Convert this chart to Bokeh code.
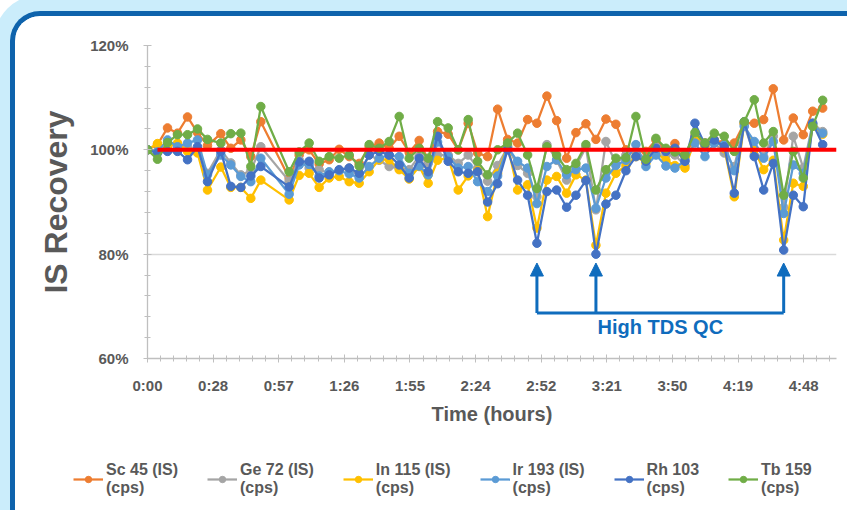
from bokeh.plotting import figure
from bokeh.layouts import column, row
from bokeh.models import (FixedTicker, Legend, LegendItem, Arrow, NormalHead, Label)
from bokeh.embed import file_html
from bokeh.resources import INLINE

# ---------------- data ----------------
elapsed_s = [0, 263, 527, 790, 1054, 1317, 1580, 1931, 2194, 2458, 2721, 2984,
             3730, 3994, 4257, 4520, 4784, 5047, 5311, 5574, 5837, 6101, 6364,
             6628, 6891, 7154, 7391, 7639, 7918, 8182, 8445, 8693, 8956, 9220,
             9483, 9746, 10010, 10255, 10518, 10774, 11037, 11282, 11545, 11809,
             12072, 12335, 12599, 12862, 13126, 13389, 13652, 13889, 14153, 14416,
             14680, 14925, 15188, 15452, 15715, 15979, 16226, 16479, 16753, 17006,
             17269, 17517, 17780]

sc45 = [100, 101.0, 104.2, 103.2, 106.3, 103.3, 100.8, 103.1, 100.3, 101.9, 98.7, 105.4,
        94.6, 99.0, 100.0, 97.3, 98.1, 100.1, 98.7, 97.4, 100.6, 101.3, 100.3,
        102.6, 99.5, 101.8, 98.0, 103.5, 103.0, 100.0, 105.1, 99.4, 98.7, 107.8,
        102.0, 101.3, 105.8, 105.1, 110.3, 105.6, 98.4, 103.3, 105.0, 102.0,
        105.9, 104.9, 100.0, 99.7, 99.7, 101.9, 99.7, 101.2, 98.7, 102.6,
        101.3, 101.9, 101.3, 101.3, 105.1, 105.1, 105.8, 111.7, 101.9, 106.1,
        102.9, 107.4, 108.0]
ge72 = [100, 99.7, 100.8, 101.0, 100.5, 100.0, 95.5, 100.0, 97.5, 95.2, 96.0, 100.6,
        94.0, 98.1, 96.5, 96.2, 95.5, 96.0, 96.5, 95.0, 99.0, 98.0, 96.8,
        96.5, 96.2, 98.8, 97.4, 99.0, 99.0, 97.4, 99.0, 96.5, 94.0, 97.0,
        100.5, 97.0, 95.5, 91.0, 101.0, 98.0, 94.2, 96.8, 100.5, 88.5,
        101.6, 97.4, 99.0, 99.7, 98.2, 100.6, 99.0, 99.0, 97.0, 101.9,
        101.3, 101.3, 99.4, 96.8, 104.8, 99.0, 98.7, 102.6, 89.0, 102.6,
        96.5, 105.1, 103.5]
in115 = [100, 101.2, 100.6, 101.3, 99.7, 99.4, 92.3, 96.7, 92.8, 92.8, 90.7, 94.2,
         90.4, 95.1, 95.5, 92.8, 94.6, 94.9, 93.9, 93.6, 95.8, 98.1, 98.1,
         96.2, 94.4, 96.8, 93.6, 98.0, 98.5, 92.3, 95.0, 96.0, 87.2, 95.5,
         100.8, 92.3, 93.3, 85.0, 94.2, 94.9, 91.7, 95.2, 94.2, 81.7,
         91.7, 95.5, 97.0, 98.7, 97.5, 99.4, 98.0, 97.0, 96.5, 101.9,
         100.6, 101.9, 100.3, 91.0, 105.1, 100.0, 96.2, 98.0, 82.7, 93.6,
         93.0, 104.5, 103.0]
ir193 = [100, 99.6, 101.9, 100.6, 101.3, 101.9, 95.2, 99.0, 97.1, 94.9, 93.9, 98.4,
         91.5, 97.1, 97.2, 95.0, 95.8, 96.0, 95.4, 94.6, 96.8, 98.4, 99.0,
         98.7, 95.5, 96.9, 95.2, 101.5, 98.7, 96.5, 96.8, 93.9, 92.0, 95.0,
         100.5, 97.8, 96.5, 89.7, 96.8, 98.1, 95.2, 96.2, 96.5, 88.8,
         94.6, 97.0, 98.0, 101.0, 96.8, 99.0, 96.9, 96.5, 98.0, 101.3,
         98.7, 101.3, 101.0, 96.0, 104.5, 101.6, 98.4, 101.6, 87.8, 97.1,
         95.5, 104.8, 103.2]
rh103 = [100, 99.4, 99.7, 99.7, 98.1, 100.6, 93.9, 99.7, 93.0, 92.8, 95.0, 96.8,
         92.9, 97.7, 97.8, 94.6, 95.2, 96.2, 96.5, 95.5, 99.0, 99.7, 99.0,
         97.1, 94.6, 98.4, 95.8, 102.6, 97.8, 95.8, 95.5, 95.8, 90.0, 93.5,
         100.0, 94.2, 91.3, 82.1, 92.0, 92.3, 89.0, 91.3, 94.1, 80.0,
         89.6, 91.3, 96.0, 98.7, 97.8, 100.3, 99.7, 100.3, 97.8, 105.1,
         101.0, 101.9, 100.6, 91.7, 105.4, 98.7, 92.3, 97.4, 80.8, 91.3,
         89.1, 105.1, 101.0]
tb159 = [100, 98.2, 101.4, 102.9, 102.9, 104.0, 102.0, 101.3, 103.1, 103.2, 96.8, 108.3,
         95.8, 99.6, 101.3, 97.8, 98.7, 98.4, 99.0, 96.9, 101.0, 100.3, 101.6,
         106.4, 98.4, 100.3, 98.4, 105.4, 104.2, 100.0, 105.8, 97.8, 95.2, 100.0,
         101.3, 103.2, 99.0, 92.6, 100.6, 99.0, 96.2, 97.4, 101.0, 92.3,
         96.2, 98.4, 98.5, 106.4, 98.2, 102.2, 100.3, 99.6, 99.0, 103.3,
         101.3, 103.2, 102.6, 99.7, 105.4, 109.6, 101.3, 103.5, 91.3, 99.7,
         94.6, 104.5, 109.5]

series_values = [sc45, ge72, in115, ir193, rh103, tb159]
series_labels = ["Sc 45 (IS)\n(cps)", "Ge 72 (IS)\n(cps)", "In 115 (IS)\n(cps)",
                 "Ir 193 (IS)\n(cps)", "Rh 103\n(cps)", "Tb 159\n(cps)"]
series_colors = ["#ED7D31", "#A5A5A5", "#FFC000", "#5B9BD5", "#4472C4", "#70AD47"]

x_tick_values = [0, 1728, 3456, 5184, 6912, 8640, 10368, 12096, 13824, 15552, 17280]
x_tick_labels = ["0:00", "0:28", "0:57", "1:26", "1:55", "2:24", "2:52", "3:21",
                 "3:50", "4:19", "4:48"]
y_tick_values = [60, 80, 100, 120]
y_tick_labels = ["60%", "80%", "100%", "120%"]
x_max = 18144
target_pct = 100
qc_indices = [37, 43, 62]
qc_label = "High TDS QC"
qc_bracket_pct = 68.7
qc_tip_pct = 78.3
qc_text_pct = 66.0

FONT = "Liberation Sans"
GREY_TXT = "#595959"
AXIS_GREY = "#BFBFBF"
QC_BLUE = "#0F6CBD"
NAN = float("nan")

# ---------------- main chart ----------------
p = figure(width=832, height=432, x_range=(0, x_max), y_range=(60, 120),
           output_backend="svg", toolbar_location=None,
           min_border_left=132, min_border_right=11, min_border_top=29,
           min_border_bottom=90)
p.border_fill_color = "white"
p.background_fill_color = "white"
p.outline_line_color = None

p.xaxis.ticker = FixedTicker(ticks=x_tick_values,
                             minor_ticks=[i * 345.6 for i in range(53)])
p.xaxis.major_label_overrides = dict(zip(x_tick_values, x_tick_labels))
p.yaxis.ticker = FixedTicker(ticks=y_tick_values, minor_ticks=list(range(60, 121, 4)))
p.yaxis.major_label_overrides = dict(zip(y_tick_values, y_tick_labels))

for ax in (p.xaxis[0], p.yaxis[0]):
    ax.axis_line_color = AXIS_GREY
    ax.axis_line_width = 1.3
    ax.major_tick_line_color = AXIS_GREY
    ax.major_tick_in = 4
    ax.major_tick_out = 4
    ax.minor_tick_line_color = AXIS_GREY
    ax.minor_tick_in = 3
    ax.minor_tick_out = 3
    ax.major_label_text_font = FONT
    ax.major_label_text_font_style = "bold"
    ax.major_label_text_font_size = "15px"
    ax.major_label_text_color = GREY_TXT
    ax.axis_label_text_font = FONT
    ax.axis_label_text_font_style = "bold"
    ax.axis_label_text_color = GREY_TXT

p.xaxis.major_label_standoff = 14
p.xaxis.axis_label = "Time (hours)"
p.xaxis.axis_label_text_font_size = "20px"
p.xaxis.axis_label_standoff = 6

p.yaxis.major_label_standoff = 15
p.yaxis.axis_label = "IS Recovery"
p.yaxis.axis_label_text_font_size = "32px"
p.yaxis.axis_label_standoff = 13

p.xgrid.visible = False
p.ygrid.grid_line_color = "#D9D9D9"
p.ygrid.grid_line_width = 1.3

for vals, col in zip(series_values, series_colors):
    p.line(elapsed_s, vals, line_color=col, line_width=2.25)
    p.scatter(elapsed_s, vals, size=8.5, fill_color=col, line_color=col)

# 100% reference line
p.line([elapsed_s[1], x_max], [target_pct, target_pct], line_color="#FF0000", line_width=4)

# High TDS QC annotation
qc_times = [elapsed_s[i] for i in qc_indices]
for t in qc_times:
    p.add_layout(Arrow(end=NormalHead(size=13, fill_color=QC_BLUE, line_color=QC_BLUE),
                       x_start=t, y_start=qc_bracket_pct, x_end=t, y_end=qc_tip_pct,
                       line_color=QC_BLUE, line_width=3))
p.line([qc_times[0], qc_times[-1]], [qc_bracket_pct, qc_bracket_pct],
       line_color=QC_BLUE, line_width=3)
p.add_layout(Label(x=(qc_times[0] + qc_times[-1]) / 2, y=qc_text_pct, text=qc_label,
                   text_align="center", text_baseline="middle", text_font=FONT,
                   text_font_style="bold", text_font_size="20px", text_color=QC_BLUE))

# ---------------- legend strip (own figure, legend proxies carry no data) ----------------
pl = figure(width=832, height=62, x_range=(0, 1), y_range=(0, 1),
            output_backend="svg", toolbar_location=None,
            x_axis_type=None, y_axis_type=None, min_border=0)
pl.outline_line_color = None
pl.grid.visible = False
pl.border_fill_color = "white"
items = []
for lab, col in zip(series_labels, series_colors):
    lr = pl.line([NAN], [NAN], line_color=col, line_width=2.25)
    sr = pl.scatter([NAN], [NAN], size=8.5, fill_color=col, line_color=col)
    items.append(LegendItem(label=lab, renderers=[lr, sr]))
legend = Legend(items=items, orientation="horizontal", location=(58, 13), ncols=6,
                margin=0, padding=0, spacing=29, glyph_width=30, glyph_height=16,
                label_standoff=3, border_line_color=None, background_fill_alpha=0,
                label_text_font=FONT, label_text_font_style="bold",
                label_text_font_size="16px", label_text_color=GREY_TXT,
                label_text_line_height=1.5)
pl.add_layout(legend)

# decorative rounded chart-area frame with light-blue glow around it
page = column(p, row(pl, spacing=0), spacing=0, styles={
    "margin-left": "10px",
    "margin-top": "11px",
    "border-left": "5px solid #0E63AC",
    "border-top": "5px solid #0E63AC",
    "border-top-left-radius": "30px",
    "box-shadow": "0 0 0 16px #CBEDFB",
    "overflow": "hidden",
    "background-color": "white",
})

open("out.html", "w").write(file_html(page, INLINE))
